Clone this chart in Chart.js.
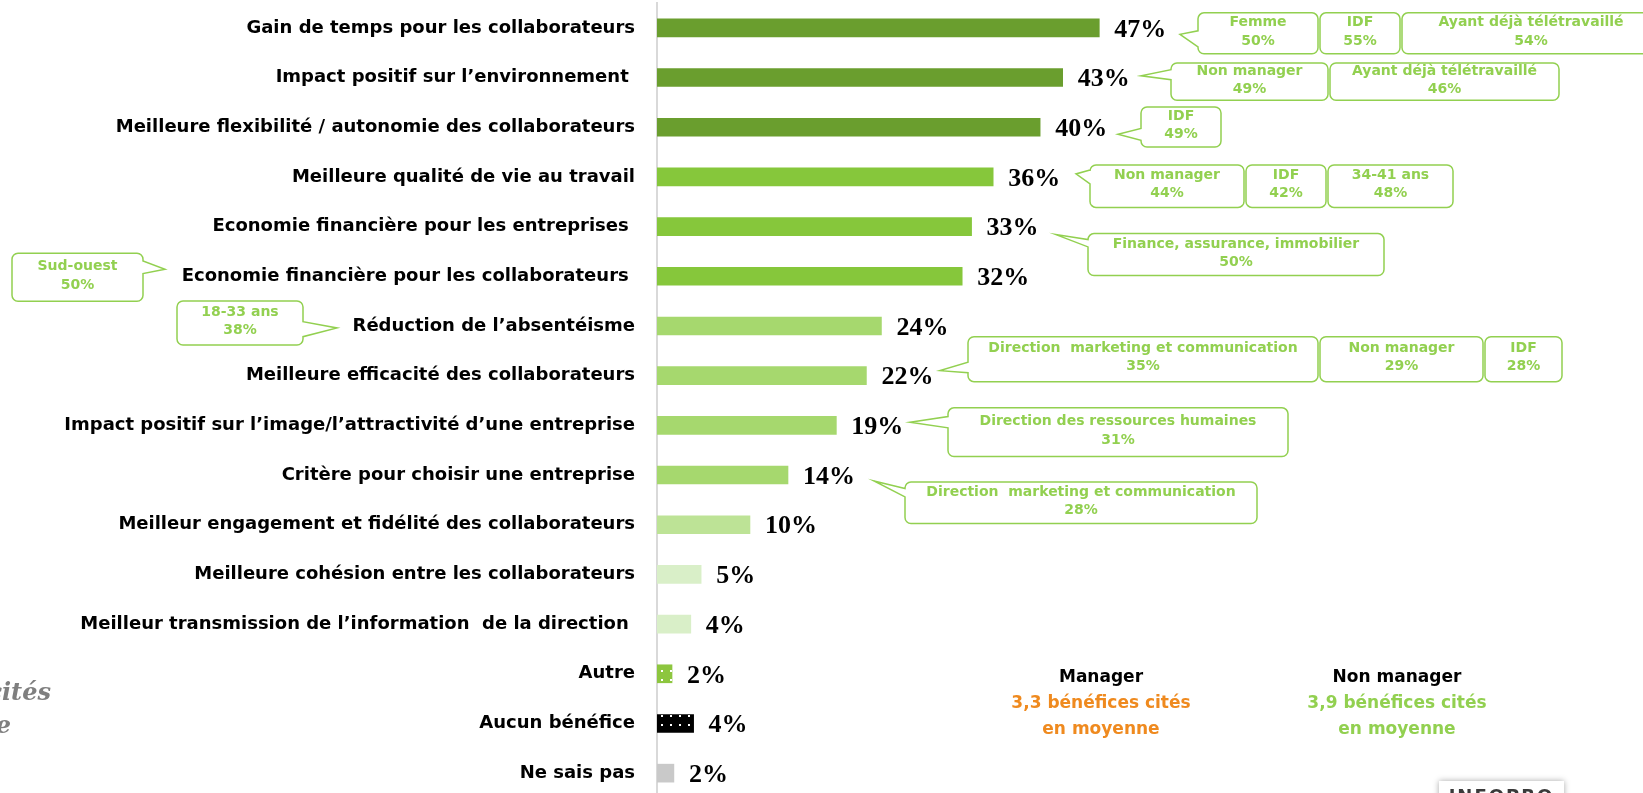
<!DOCTYPE html>
<html>
<head>
<meta charset="utf-8">
<script src="https://cdn.jsdelivr.net/npm/chart.js@4.4.0/dist/chart.umd.min.js"></script>
<style>
  html, body { margin: 0; padding: 0; background: #fff; overflow: hidden; }
  #wrap { position: relative; width: 1643px; height: 793px; overflow: hidden; }
  #chart { position: absolute; left: 0; top: 0; }
  .sum { position: absolute; width: 300px; text-align: center; font-family: "DejaVu Sans", sans-serif; font-weight: bold; font-size: 17px; line-height: 26px; }
  .cut { position: absolute; white-space: nowrap; text-align: right; font-family: "DejaVu Serif", serif; font-style: italic; font-weight: bold; font-size: 24px; line-height: 33px; color: #7f7f7f; }
  .logo { position: absolute; left: 1439px; top: 781px; width: 125px; height: 30px; background: #fff; box-shadow: 0 0 6px rgba(0,0,0,0.35); text-align: center; }
  .logo span { display: block; margin-top: 4px; font-family: "DejaVu Sans", sans-serif; font-weight: bold; font-size: 18px; letter-spacing: 2px; color: #3a3a3a; }
</style>
</head>
<body>
<div id="wrap">
  <canvas id="chart" width="1643" height="798"></canvas>
  <div class="cut" style="right:1592px;top:675px">bénéfices cités</div>
  <div class="cut" style="right:1632px;top:708px">en moyenne</div>
  <div id="notes"></div>
  <div class="logo"><span>INFOPRO</span></div>
</div>
<script>
// bénéfices perçus du télétravail
const categories = [
  'Gain de temps pour les collaborateurs',
  'Impact positif sur l’environnement ',
  'Meilleure flexibilité / autonomie des collaborateurs',
  'Meilleure qualité de vie au travail',
  'Economie financière pour les entreprises ',
  'Economie financière pour les collaborateurs ',
  'Réduction de l’absentéisme',
  'Meilleure efficacité des collaborateurs',
  'Impact positif sur l’image/l’attractivité d’une entreprise',
  'Critère pour choisir une entreprise',
  'Meilleur engagement et fidélité des collaborateurs',
  'Meilleure cohésion entre les collaborateurs',
  'Meilleur transmission de l’information  de la direction ',
  'Autre',
  'Aucun bénéfice',
  'Ne sais pas'
];
// longueur des barres (estimée) et pourcentages affichés
const values = [47.1, 43.2, 40.8, 35.8, 33.5, 32.5, 23.9, 22.3, 19.1, 13.95, 9.9, 4.7, 3.6, 1.6, 3.9, 1.8];
const pctLabels = ['47%', '43%', '40%', '36%', '33%', '32%', '24%', '22%', '19%', '14%', '10%', '5%', '4%', '2%', '4%', '2%'];

// sous-populations sur-représentées (bulles)
const calloutRows = [0, 1, 2, 3, 4, 5, 6, 7, 8, 9];
const calloutTexts = [
  [['Femme', '50%'], ['IDF', '55%'], ['Ayant déjà télétravaillé', '54%']],
  [['Non manager', '49%'], ['Ayant déjà télétravaillé', '46%']],
  [['IDF', '49%']],
  [['Non manager', '44%'], ['IDF', '42%'], ['34-41 ans', '48%']],
  [['Finance, assurance, immobilier', '50%']],
  [['Sud-ouest', '50%']],
  [['18-33 ans', '38%']],
  [['Direction  marketing et communication', '35%'], ['Non manager', '29%'], ['IDF', '28%']],
  [['Direction des ressources humaines', '31%']],
  [['Direction  marketing et communication', '28%']]
];

const groupNames = ['Manager', 'Non manager'];
const groupAvg = ['3,3', '3,9'];

// --- mise en page ---
const AXIS_X = 657;
const GREEN = '#92d050';
const ORANGE = '#ef8a1f';

// géométrie des bulles : cases en x, haut/bas et pointe relatifs au centre de la ligne
const calloutLayout = [
  { xs: [1198, 1319, 1401, 1660], top: -15, bot: 26, tip: [1180, 6.5], base: [3, 19], side: 'left' },
  { xs: [1171, 1329, 1559], top: -14.5, bot: 22.7, tip: [1141, -1.8], base: [-7.8, 2.2], side: 'left' },
  { xs: [1141, 1221], top: -20.3, bot: 19.7, tip: [1118, 7], base: [1.3, 13], side: 'left' },
  { xs: [1090, 1245, 1327, 1453], top: -12, bot: 30.5, tip: [1076, -3], base: [-7, 7], side: 'left' },
  { xs: [1088, 1384], top: 7, bot: 49, tip: [1056, 8], base: [13, 20.3], side: 'left' },
  { xs: [12, 143], top: -23, bot: 25, tip: [165, -7], base: [-15.3, -2.7], side: 'right' },
  { xs: [177, 303], top: -25, bot: 19, tip: [337, 2], base: [-4.3, 10.7], side: 'right' },
  { xs: [968, 1319, 1484, 1562], top: -39, bot: 6, tip: [940, -5], base: [-13.4, -3], side: 'left' },
  { xs: [948, 1288], top: -17.5, bot: 31.2, tip: [910, -3.1], base: [-8.8, 2.5], side: 'left' },
  { xs: [905, 1257], top: 6.9, bot: 48.5, tip: [874, 5.9], base: [13.5, 21.9], side: 'left' }
];

const canvas = document.getElementById('chart');
const ctx = canvas.getContext('2d');

function dotted(base) {
  const c = document.createElement('canvas');
  c.width = 9; c.height = 9;
  const g = c.getContext('2d');
  g.fillStyle = base;
  g.fillRect(0, 0, 9, 9);
  g.fillStyle = '#fff';
  g.fillRect(4, 4, 2, 2);
  return ctx.createPattern(c, 'repeat');
}

const barColors = [
  '#6a9e2e', '#6a9e2e', '#6a9e2e',
  '#86c73b', '#86c73b', '#86c73b',
  '#a6d86e', '#a6d86e', '#a6d86e', '#a6d86e',
  '#bde396',
  '#d9efc8', '#d9efc8',
  dotted('#8dc63f'),
  dotted('#000000'),
  '#c9c9c9'
];

// notes Manager / Non manager
const notes = document.getElementById('notes');
[[951, ORANGE], [1247, GREEN]].forEach((g, i) => {
  const d = document.createElement('div');
  d.className = 'sum';
  d.style.left = g[0] + 'px';
  d.style.top = '663px';
  d.innerHTML = '<div style="color:#000">' + groupNames[i] + '</div>' +
    '<div style="color:' + g[1] + '">' + groupAvg[i] + ' bénéfices cités</div>' +
    '<div style="color:' + g[1] + '">en moyenne</div>';
  notes.appendChild(d);
});

function bubblePath(c, x0, x1, y0, y1, r, tail, side) {
  c.beginPath();
  c.moveTo(x0 + r, y0);
  c.lineTo(x1 - r, y0);
  c.arcTo(x1, y0, x1, y0 + r, r);
  if (tail && side === 'right') {
    c.lineTo(x1, tail.b0);
    c.lineTo(tail.tx, tail.ty);
    c.lineTo(x1, tail.b1);
  }
  c.lineTo(x1, y1 - r);
  c.arcTo(x1, y1, x1 - r, y1, r);
  c.lineTo(x0 + r, y1);
  c.arcTo(x0, y1, x0, y1 - r, r);
  if (tail && side === 'left') {
    c.lineTo(x0, tail.b1);
    c.lineTo(tail.tx, tail.ty);
    c.lineTo(x0, tail.b0);
  }
  c.lineTo(x0, y0 + r);
  c.arcTo(x0, y0, x0 + r, y0, r);
  c.closePath();
}

const calloutPlugin = {
  id: 'callouts',
  afterDatasetsDraw(chart) {
    const c = chart.ctx;
    const yScale = chart.scales.y;
    c.save();
    c.lineWidth = 1.5;
    c.strokeStyle = GREEN;
    c.font = 'bold 14px "DejaVu Sans", sans-serif';
    c.textAlign = 'center';
    c.textBaseline = 'middle';
    calloutRows.forEach((row, k) => {
      const L = calloutLayout[k];
      const cy = yScale.getPixelForValue(row);
      const y0 = cy + L.top, y1 = cy + L.bot;
      const texts = calloutTexts[k];
      texts.forEach((t, j) => {
        const x0 = L.xs[j] + (j > 0 ? 1 : 0);
        const x1 = L.xs[j + 1] - (j < texts.length - 1 ? 1 : 0);
        let tail = null;
        if ((L.side === 'left' && j === 0) || (L.side === 'right' && j === texts.length - 1)) {
          tail = { tx: L.tip[0], ty: cy + L.tip[1], b0: cy + L.base[0], b1: cy + L.base[1] };
        }
        bubblePath(c, x0, x1, y0, y1, 6, tail, L.side);
        c.fillStyle = '#fff';
        c.fill();
        c.stroke();
        const mid = (y0 + y1) / 2 - 1.5;
        c.fillStyle = GREEN;
        c.fillText(t[0], (x0 + x1) / 2, mid - 9.2);
        c.fillText(t[1], (x0 + x1) / 2, mid + 9.2);
      });
    });
    c.restore();
  }
};

const valueLabels = {
  id: 'valueLabels',
  afterDatasetsDraw(chart) {
    const c = chart.ctx;
    const meta = chart.getDatasetMeta(0);
    c.save();
    c.fillStyle = '#000';
    c.font = 'bold 26px "Liberation Serif", serif';
    c.textAlign = 'left';
    c.textBaseline = 'middle';
    meta.data.forEach((bar, i) => {
      c.fillText(pctLabels[i], bar.x + 15, bar.y + 2);
    });
    c.restore();
  }
};

new Chart(ctx, {
  type: 'bar',
  data: {
    labels: categories,
    datasets: [{
      data: values,
      backgroundColor: barColors,
      borderWidth: 0,
      barThickness: 18
    }]
  },
  options: {
    indexAxis: 'y',
    responsive: false,
    animation: false,
    layout: { padding: { top: 3, right: 0, bottom: 0, left: 0 } },
    plugins: {
      legend: { display: false },
      tooltip: { enabled: false }
    },
    scales: {
      x: { display: false, min: 0, max: 105 },
      y: {
        afterFit(scale) {
          scale.width = AXIS_X;
          scale.paddingTop = 0;
          scale.paddingBottom = 0;
        },
        grid: { display: false, drawTicks: false },
        border: { display: true, color: '#d9d9d9', width: 2 },
        ticks: {
          autoSkip: false,
          padding: 22,
          color: '#000',
          font: { family: '"DejaVu Sans", sans-serif', weight: 'bold', size: 18 }
        }
      }
    }
  },
  plugins: [valueLabels, calloutPlugin]
});
</script>
</body>
</html>
